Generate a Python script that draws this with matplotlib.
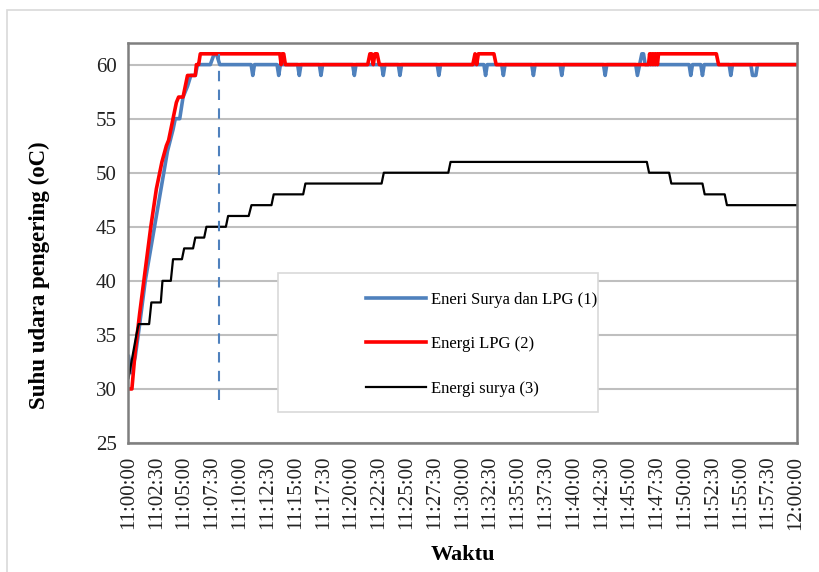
import numpy as np
import matplotlib
matplotlib.use("Agg")
import matplotlib.pyplot as plt
from matplotlib.patches import Rectangle
from matplotlib.ticker import FixedLocator

# data (minutes after 11:00:00, temperature in oC)
blue_t = [0, 0.25, 0.6, 1.0, 1.5, 2.0, 2.5, 3.0, 3.5, 4.0, 4.2, 4.6, 4.9, 5.3, 5.6, 6.0, 6.2,
          7.35, 7.7, 7.9, 8.2,
          11.02, 11.17, 11.32, 13.35, 13.5, 13.65, 15.2, 15.35, 15.5, 17.15, 17.3, 17.45,
          20.15, 20.3, 20.45, 22.75, 22.9, 23.05, 24.25, 24.4, 24.55, 27.75, 27.9, 28.05,
          31.95, 32.1, 32.25, 33.55, 33.7, 33.85, 36.25, 36.4, 36.55, 38.8, 38.95, 39.1,
          42.7, 42.85, 43.0, 45.6, 45.75, 45.95, 46.15, 46.3, 46.45,
          50.4, 50.55, 50.7, 51.45, 51.6, 51.75, 54.0, 54.15, 54.3, 55.95, 56.1, 56.4, 56.55, 60]
blue_v = [33, 31.5, 33, 36, 40, 43, 46, 49, 52, 54, 55, 55, 57, 58, 59, 59, 60,
          60, 61, 61, 60,
          60, 59, 60, 60, 59, 60, 60, 59, 60, 60, 59, 60,
          60, 59, 60, 60, 59, 60, 60, 59, 60, 60, 59, 60,
          60, 59, 60, 60, 59, 60, 60, 59, 60, 60, 59, 60,
          60, 59, 60, 60, 59, 60, 61, 61, 60,
          60, 59, 60, 60, 59, 60, 60, 59, 60, 60, 59, 59, 60, 60]

red_t = [0, 0.3, 0.6, 1.0, 1.5, 2.0, 2.5, 3.0, 3.4, 3.6, 4.0, 4.3, 4.5, 4.9, 5.1, 5.3, 6.0, 6.1, 6.3, 6.45,
         13.6, 13.72, 13.82, 13.95, 14.1,
         21.5, 21.7, 21.85, 22.0, 22.15, 22.35, 22.55,
         30.95, 31.15, 31.3, 31.45, 32.85, 33.05,
         46.75, 46.85, 46.95, 47.05, 47.15, 47.25, 47.35, 47.45, 47.55, 47.65, 52.85, 53.05, 60]
red_v = [30, 30, 33.5, 37, 41, 45, 48.5, 51, 52.5, 53, 55, 56.5, 57, 57, 58, 59, 59, 60, 60, 61,
         61, 60, 61, 61, 60,
         60, 61, 61, 60, 61, 61, 60,
         60, 61, 60, 61, 61, 60,
         60, 61, 60, 61, 60, 61, 60, 61, 60, 61, 61, 60, 60]

black_t = [0, 0.7, 0.9, 1.85, 2.05, 2.9, 3.05, 3.8, 4.0, 4.8, 5.0, 5.8, 6.0, 6.8, 7.0,
           8.75, 8.95, 10.8, 11.05, 12.85, 13.05, 15.7, 15.9, 22.75, 22.95, 28.75, 28.95,
           46.6, 46.8, 48.6, 48.8, 51.6, 51.8, 53.6, 53.8, 60]
black_v = [31, 35, 36, 36, 38, 38, 40, 40, 42, 42, 43, 43, 44, 44, 45,
           45, 46, 46, 47, 47, 48, 48, 49, 49, 50, 50, 51,
           51, 50, 50, 49, 49, 48, 48, 47, 47]

marker_t = 8.1
marker_range = [29, 61]

labels = ["Eneri Surya dan LPG (1)", "Energi LPG (2)", "Energi surya (3)"]
tick_minutes = np.arange(0, 60.1, 2.5)
tick_labels = ["11:00:00", "11:02:30", "11:05:00", "11:07:30", "11:10:00", "11:12:30",
               "11:15:00", "11:17:30", "11:20:00", "11:22:30", "11:25:00", "11:27:30",
               "11:30:00", "11:32:30", "11:35:00", "11:37:30", "11:40:00", "11:42:30",
               "11:45:00", "11:47:30", "11:50:00", "11:52:30", "11:55:00", "11:57:30",
               "12:00:00"]

plt.rcParams['font.family'] = ['Liberation Serif', 'DejaVu Serif']

fig = plt.figure(figsize=(8.19, 5.72), dpi=100)
ax = fig.add_axes([128/819, 1 - 443/572, 669/819, 400/572])

# chart area border
fig.patches.append(Rectangle((7/819, -0.1), 1.2, 1.1 - 10/572, transform=fig.transFigure,
                             fill=False, edgecolor='#d9d9d9', linewidth=1.2, clip_on=False))

ax.set_ylim(25, 62)
ax.set_xlim(-0.05, 60.1)
ax.set_yticks(np.arange(25, 61, 5))
ax.yaxis.grid(True, color='#bfbfbf', linewidth=1.5)
ax.set_axisbelow(True)

l1, = ax.plot(blue_t, blue_v, color='#4f81bd', linewidth=2.6, solid_joinstyle='round')
l2, = ax.plot(red_t, red_v, color='#ff0000', linewidth=2.6, solid_joinstyle='round')
l3, = ax.plot(black_t, black_v, color='black', linewidth=1.6)
ax.plot([marker_t, marker_t], marker_range, color='#4f81bd', linewidth=1.5, linestyle=(0, (5, 4)))

ax.xaxis.set_major_locator(FixedLocator(tick_minutes))
ax.set_xticklabels(tick_labels, rotation=90)
ax.tick_params(axis='both', length=0, labelsize=15, colors='#222222', pad=8)
ax.tick_params(axis='x', pad=9)

for s in ax.spines.values():
    s.set_color('#7f7f7f')
    s.set_linewidth(1.8)

ax.set_ylabel("Suhu udara pengering (oC)", fontsize=16.5, fontweight='bold')
ax.yaxis.set_label_coords(-0.117, 0.42)
ax.set_xlabel("Waktu", fontsize=16, fontweight='bold', labelpad=11)

# legend box
ax.add_patch(Rectangle((0.224, 0.0775), 0.4785, 0.3475, transform=ax.transAxes,
                       facecolor='white', edgecolor='#d9d9d9', linewidth=1.2, zorder=5))
leg = ax.legend([l1, l2, l3], labels, loc='center left', bbox_to_anchor=(0.3435, 0.247),
                frameon=False, fontsize=12, handlelength=3.6, handletextpad=0.3,
                labelspacing=1.72, borderpad=0)
leg.set_zorder(6)

fig.savefig("out.png", dpi=100)
